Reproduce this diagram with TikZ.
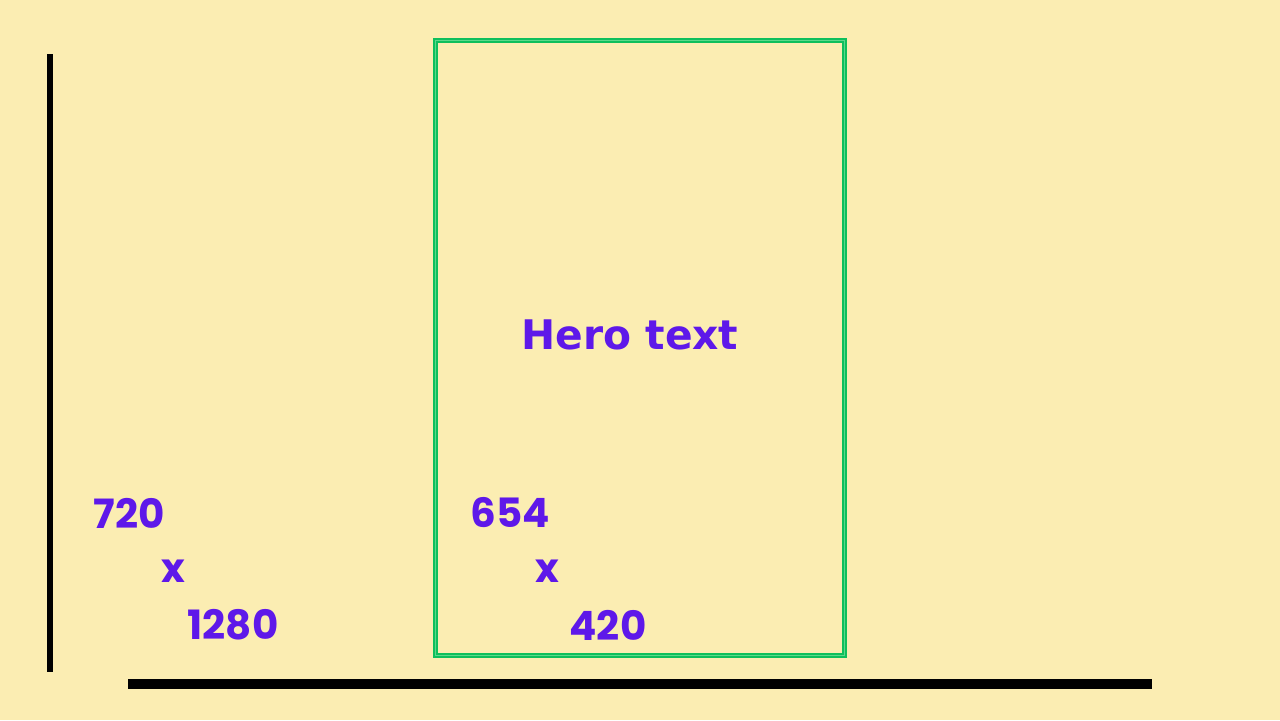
\documentclass[tikz,border=0pt]{standalone}
\usepackage{fontspec}
\setmainfont{Liberation Sans}
\newfontfamily\numfont{Poppins}
\newfontfamily\herofont{DejaVu Sans}
\usetikzlibrary{positioning}
\usepackage{xcolor}
\definecolor{paper}{HTML}{FBEDB2}
\definecolor{violet}{HTML}{5E18E9}
\definecolor{frame}{HTML}{0EBF5C}
\definecolor{framelight}{HTML}{5CD88A}

\begin{document}
\begin{tikzpicture}[
  x=0.02cm, y=-0.02cm,
  hero/.style={font=\herofont\fontsize{23.2}{28}\selectfont\bfseries, text=violet},
  dim/.style={font=\numfont\fontsize{23}{26}\selectfont\bfseries, text=violet, inner sep=0pt},
  axis/.style={draw=black, line cap=butt}
]
  % canvas
  \fill[paper] (0,0) rectangle (1280,720);
  \useasboundingbox (0,0) rectangle (1280,720);

  % axes
  \draw[axis, line width=6*0.02cm] (50,54) -- (50,672);
  \draw[axis, line width=10*0.02cm] (128,684) -- (1152,684);

  % hero frame
  \draw[frame, line width=1.6*0.02cm, double=framelight, double distance=1.4*0.02cm]
    (435.5,40.5) rectangle (844.5,655.5);
  \node[hero] (hero) at (630,335) {Hero text};

  % full size
  \node[dim] (fullh) at (129,513) {720};
  \node[dim] (fullx) at (173,571) {x};
  \node[dim] (fullw) at (233,625) {1280};

  % hero size
  \node[dim] (heroh) at (510,513) {654};
  \node[dim] (herox) at (547,571) {x};
  \node[dim] (herow) at (608,625) {420};
\end{tikzpicture}
\end{document}
